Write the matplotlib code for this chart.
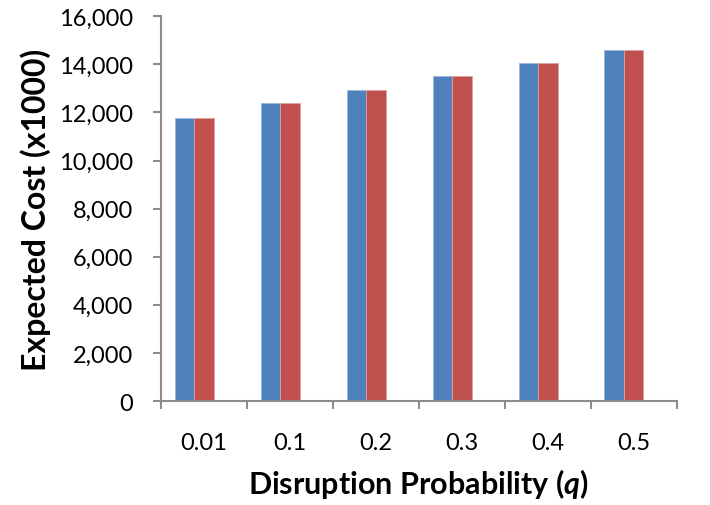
import matplotlib
matplotlib.use("Agg")
import matplotlib.pyplot as plt
import numpy as np
from matplotlib.ticker import FuncFormatter, MultipleLocator

plt.rcParams['font.family'] = ['Lato', 'DejaVu Sans']
plt.rcParams['mathtext.fontset'] = 'custom'
plt.rcParams['mathtext.it'] = 'Lato:italic:bold'

# data
categories = ["0.01", "0.1", "0.2", "0.3", "0.4", "0.5"]
series_a = [11760, 12400, 12950, 13500, 14040, 14590]
series_b = [11760, 12400, 12950, 13500, 14040, 14590]

fig = plt.figure(figsize=(7.1, 5.06), dpi=100)
ax = fig.add_axes([0.227, 0.2055, 0.726, 0.7605])

x = np.arange(len(categories))
w = 0.227
ax.bar(x - w, series_a, width=w, align='center', color='#4F81BD', edgecolor='#9BB7DB', linewidth=0.6)
ax.bar(x, series_b, width=w, align='center', color='#C0504D', edgecolor='#E0A09E', linewidth=0.6)

ax.set_xlim(-0.5, len(categories) - 0.5)
ax.set_ylim(0, 16000)
ax.yaxis.set_major_locator(MultipleLocator(2000))
ax.yaxis.set_major_formatter(FuncFormatter(lambda v, p: f"{int(v):,}"))

ax.set_xticks(x)
ax.set_xticklabels(categories)
ax.set_xticks(np.arange(len(categories) + 1) - 0.5, minor=True)
ax.tick_params(axis='x', which='major', length=0, pad=22, labelsize=17)
ax.tick_params(axis='x', which='minor', length=6, width=1.5, color='#8C8C8C')
ax.tick_params(axis='y', length=6, width=1.5, color='#8C8C8C', labelsize=17, pad=14)

for s in ['top', 'right']:
    ax.spines[s].set_visible(False)
for s in ['left', 'bottom']:
    ax.spines[s].set_color('#8C8C8C')
    ax.spines[s].set_linewidth(1.5)

ax.set_xlabel("Disruption Probability ($q$)", fontsize=22, fontweight='bold', labelpad=10)
ax.set_ylabel("Expected Cost (x1000)", fontsize=23, fontweight='bold', labelpad=6)

fig.savefig("out.png", dpi=100)
